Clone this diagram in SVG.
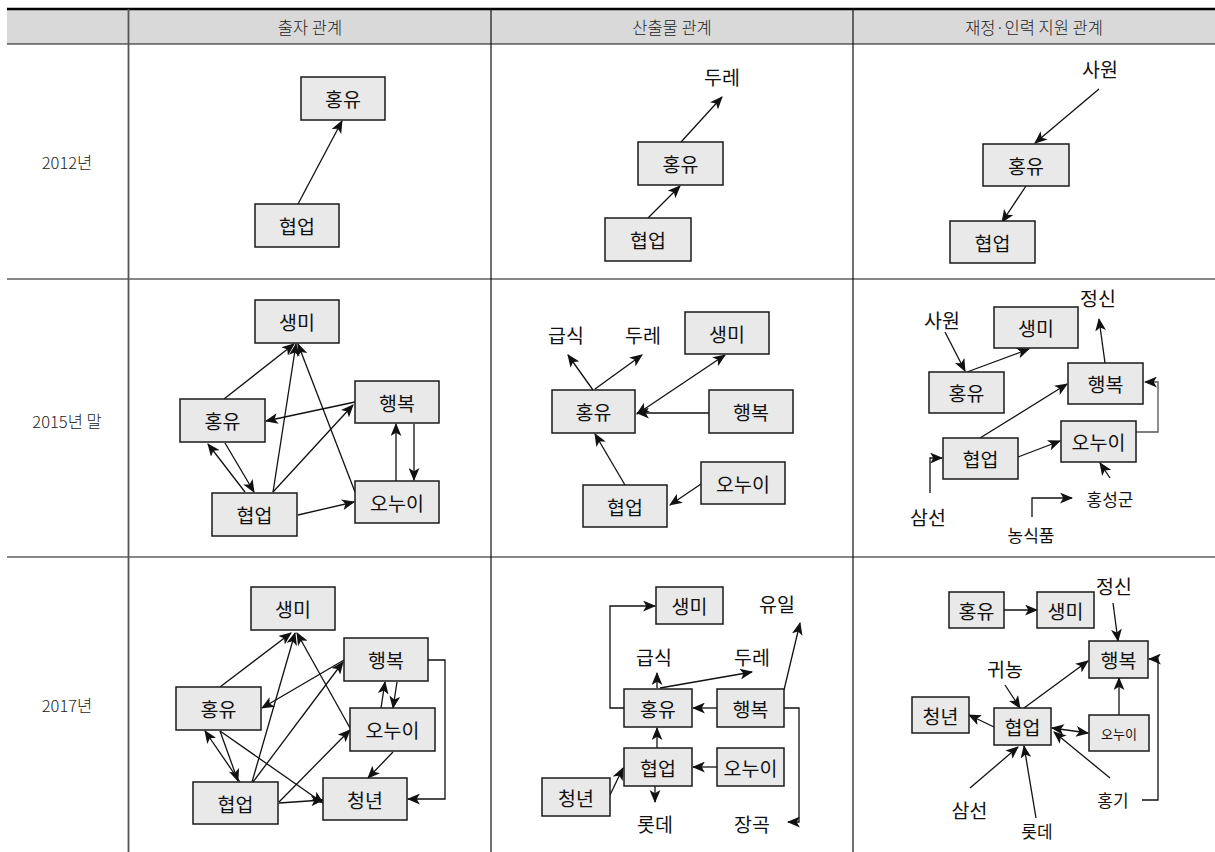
<svg xmlns="http://www.w3.org/2000/svg" width="1215" height="852" viewBox="0 0 1215 852">
<style>
.box{fill:#e9e9e9;stroke:#1a1a1a;stroke-width:1.5}
.t{font-family:"Noto Sans CJK KR","Noto Sans",sans-serif;font-size:19.5px;fill:#111;text-anchor:middle;dominant-baseline:central}
.s{font-size:17px}
.xs{font-size:13px}
.h{font-family:"Noto Sans CJK KR","Noto Sans",sans-serif;font-size:16.5px;font-weight:300;fill:#222;text-anchor:middle;dominant-baseline:central}
.c{fill:none;stroke:#111;stroke-width:1.3;marker-end:url(#ah)}
.d{marker-start:url(#ah)}
.g{stroke:#555}
.grid{stroke:#111;stroke-width:1.2;fill:none}
</style>
<defs>
<marker id="ah" viewBox="0 0 12 10" refX="11" refY="5" markerWidth="13" markerHeight="11" markerUnits="userSpaceOnUse" orient="auto-start-reverse"><path d="M0,0 L12,5 L0,10 L3,5 Z" fill="#111"/></marker>
</defs>
<rect width="1215" height="852" fill="#fff"/>
<g id="table">
<rect x="7" y="9" width="1208" height="35" fill="#d9d9d9"/>
<line x1="7" y1="9" x2="1215" y2="9" stroke="#000" stroke-width="2.5"/>
<line class="grid" x1="7" y1="44" x2="1215" y2="44"/>
<line class="grid" x1="7" y1="279" x2="1215" y2="279"/>
<line class="grid" x1="7" y1="557" x2="1215" y2="557"/>
<line x1="128.5" y1="9" x2="128.5" y2="852" stroke="#555" stroke-width="1.8"/>
<line class="grid" x1="491" y1="9" x2="491" y2="852"/>
<line class="grid" x1="853" y1="9" x2="853" y2="852"/>
<text class="h" x="310" y="27">출자 관계</text>
<text class="h" x="672" y="27">산출물 관계</text>
<text class="h" x="1034" y="27">재정·인력 지원 관계</text>
<text class="h" x="67" y="162">2012년</text>
<text class="h" x="67" y="421">2015년 말</text>
<text class="h" x="67" y="705">2017년</text>
</g>

<g id="connectors">
<!-- 2012 출자 -->
<line class="c" x1="298" y1="204" x2="342" y2="121"/>
<!-- 2012 산출물 -->
<line class="c" x1="681" y1="142" x2="722" y2="97"/>
<line class="c" x1="648" y1="218" x2="680" y2="186"/>
<!-- 2012 재정 -->
<line class="c" x1="1099" y1="89" x2="1035" y2="143"/>
<line class="c" x1="1026" y1="186" x2="1002" y2="222"/>
<!-- 2015 출자 -->
<line class="c" x1="224" y1="399" x2="294" y2="344"/>
<line class="c" x1="273" y1="492" x2="296" y2="344"/>
<line class="c" x1="355" y1="492" x2="298" y2="344"/>
<line class="c" x1="355" y1="402" x2="266" y2="421"/>
<line class="c" x1="273" y1="492" x2="353" y2="405"/>
<line class="c" x1="225" y1="443" x2="254" y2="492"/>
<line class="c" x1="245" y1="492" x2="208" y2="444"/>
<line class="c" x1="298" y1="515" x2="354" y2="502"/>
<line class="c" x1="396" y1="481" x2="396" y2="424"/>
<line class="c" x1="414" y1="424" x2="414" y2="480"/>
<!-- 2015 산출물 -->
<line class="c" x1="593" y1="390" x2="568" y2="355"/>
<line class="c" x1="595" y1="389" x2="642" y2="355"/>
<line class="c d" x1="637" y1="414" x2="725" y2="355"/>
<line class="c" x1="709" y1="413" x2="637" y2="413"/>
<line class="c" x1="625" y1="485" x2="595" y2="434"/>
<line class="c" x1="701" y1="484" x2="670" y2="505"/>
<!-- 2015 재정 -->
<line class="c" x1="945" y1="332" x2="965" y2="371"/>
<line class="c" x1="967" y1="372" x2="1029" y2="349"/>
<line class="c" x1="1105" y1="363" x2="1099" y2="319"/>
<line class="c" x1="980" y1="438" x2="1067" y2="384"/>
<line class="c" x1="1018" y1="457" x2="1060" y2="441"/>
<path class="c g" d="M1136,432 H1158 V382 H1145"/>
<line class="c" x1="1110" y1="478" x2="1100" y2="463"/>
<path class="c" d="M930,493 V458 H942"/>
<path class="c" d="M1032,517 V498 H1072"/>
<!-- 2017 출자 -->
<line class="c" x1="220" y1="687" x2="291" y2="633"/>
<line class="c" x1="252" y1="782" x2="295" y2="633"/>
<line class="c" x1="350" y1="728" x2="297" y2="633"/>
<line class="c" x1="344" y1="660" x2="262" y2="708"/>
<line class="c" x1="253" y1="782" x2="343" y2="662"/>
<line class="c" x1="220" y1="731" x2="238" y2="781"/>
<line class="c" x1="240" y1="782" x2="205" y2="731"/>
<line class="c" x1="220" y1="731" x2="323" y2="803"/>
<line class="c" x1="279" y1="803" x2="323" y2="800"/>
<line class="c" x1="279" y1="802" x2="350" y2="730"/>
<line class="c" x1="381" y1="708" x2="385" y2="682"/>
<line class="c" x1="397" y1="682" x2="393" y2="708"/>
<line class="c" x1="393" y1="752" x2="368" y2="778"/>
<path class="c" d="M428,660 H445 V799 H408"/>
<!-- 2017 산출물 -->
<path class="c" d="M624,708 H610 V606 H655"/>
<line class="c" x1="657" y1="688" x2="657" y2="673"/>
<line class="c" x1="660" y1="688" x2="752" y2="672"/>
<line class="c" x1="717" y1="708" x2="693" y2="708"/>
<line class="c" x1="784" y1="690" x2="800" y2="623"/>
<path class="c" d="M784,708 H799 V822 H788"/>
<line class="c" x1="657" y1="748" x2="657" y2="728"/>
<line class="c" x1="717" y1="767" x2="693" y2="767"/>
<line class="c" x1="610" y1="795" x2="623" y2="768"/>
<line class="c" x1="655" y1="786" x2="655" y2="802"/>
<!-- 2017 재정 -->
<line class="c" x1="1004" y1="610" x2="1037" y2="610"/>
<line class="c" x1="1113" y1="603" x2="1118" y2="641"/>
<line class="c" x1="1005" y1="685" x2="1020" y2="708"/>
<line class="c" x1="1024" y1="708" x2="1088" y2="661"/>
<line class="c" x1="994" y1="727" x2="969" y2="715"/>
<line class="c d" x1="1052" y1="728" x2="1088" y2="733"/>
<line class="c" x1="1119" y1="715" x2="1119" y2="678"/>
<line class="c" x1="970" y1="788" x2="1018" y2="747"/>
<line class="c" x1="1036" y1="818" x2="1024" y2="746"/>
<line class="c" x1="1110" y1="778" x2="1054" y2="732"/>
<path class="c" d="M1142,800 H1158 V659 H1149"/>
</g>

<!-- 2012 출자 -->
<g id="n2012a_hongyu"><rect class="box" x="301" y="77" width="84" height="43"/><text class="t" x="343" y="98.5">홍유</text></g>
<g id="n2012a_hyeop"><rect class="box" x="255" y="204" width="84" height="43"/><text class="t" x="297" y="225.5">협업</text></g>
<!-- 2012 산출물 -->
<g id="n2012b_dure"><text class="t" x="722" y="76">두레</text></g>
<g id="n2012b_hongyu"><rect class="box" x="638" y="142" width="85" height="43"/><text class="t" x="680.5" y="163.5">홍유</text></g>
<g id="n2012b_hyeop"><rect class="box" x="605" y="218" width="86" height="43"/><text class="t" x="648" y="239.5">협업</text></g>
<!-- 2012 재정 -->
<g id="n2012c_sawon"><text class="t" x="1100" y="68">사원</text></g>
<g id="n2012c_hongyu"><rect class="box" x="983" y="144" width="86" height="42"/><text class="t" x="1026" y="165">홍유</text></g>
<g id="n2012c_hyeop"><rect class="box" x="950" y="221" width="85" height="42"/><text class="t" x="992.5" y="242">협업</text></g>

<!-- 2015 출자 -->
<g id="n2015a_saengmi"><rect class="box" x="255" y="300" width="84" height="43"/><text class="t" x="297" y="321.5">생미</text></g>
<g id="n2015a_hongyu"><rect class="box" x="180" y="399" width="85" height="43"/><text class="t" x="222.5" y="420.5">홍유</text></g>
<g id="n2015a_haengbok"><rect class="box" x="355" y="381" width="84" height="42"/><text class="t" x="397" y="402">행복</text></g>
<g id="n2015a_hyeop"><rect class="box" x="212" y="493" width="85" height="43"/><text class="t" x="254.5" y="514.5">협업</text></g>
<g id="n2015a_onui"><rect class="box" x="355" y="481" width="84" height="42"/><text class="t" x="397" y="502">오누이</text></g>
<!-- 2015 산출물 -->
<g id="n2015b_geupsik"><text class="t" x="566" y="334">급식</text></g>
<g id="n2015b_dure"><text class="t" x="643" y="334">두레</text></g>
<g id="n2015b_saengmi"><rect class="box" x="685" y="312" width="84" height="42"/><text class="t" x="727" y="333">생미</text></g>
<g id="n2015b_hongyu"><rect class="box" x="552" y="390" width="83" height="43"/><text class="t" x="593.5" y="411.5">홍유</text></g>
<g id="n2015b_haengbok"><rect class="box" x="709" y="390" width="84" height="43"/><text class="t" x="751" y="411.5">행복</text></g>
<g id="n2015b_onui"><rect class="box" x="701" y="462" width="84" height="42"/><text class="t" x="743" y="483">오누이</text></g>
<g id="n2015b_hyeop"><rect class="box" x="583" y="485" width="84" height="42"/><text class="t" x="625" y="506">협업</text></g>
<!-- 2015 재정 -->
<g id="n2015c_jeongsin"><text class="t" x="1098" y="297">정신</text></g>
<g id="n2015c_sawon"><text class="t" x="942" y="319">사원</text></g>
<g id="n2015c_saengmi"><rect class="box" x="994" y="307" width="84" height="41"/><text class="t" x="1036" y="327.5">생미</text></g>
<g id="n2015c_hongyu"><rect class="box" x="929" y="372" width="75" height="41"/><text class="t" x="966.5" y="392.5">홍유</text></g>
<g id="n2015c_haengbok"><rect class="box" x="1068" y="363" width="75" height="41"/><text class="t" x="1105.5" y="383.5">행복</text></g>
<g id="n2015c_onui"><rect class="box" x="1061" y="421" width="75" height="41"/><text class="t" x="1098.5" y="441.5">오누이</text></g>
<g id="n2015c_hyeop"><rect class="box" x="943" y="438" width="75" height="41"/><text class="t" x="980.5" y="458.5">협업</text></g>
<g id="n2015c_samseon"><text class="t" x="928" y="516">삼선</text></g>
<g id="n2015c_hongseong"><text class="t s" x="1110" y="498">홍성군</text></g>
<g id="n2015c_nongsik"><text class="t s" x="1031" y="534">농식품</text></g>

<!-- 2017 출자 -->
<g id="n2017a_saengmi"><rect class="box" x="251" y="587" width="84" height="43"/><text class="t" x="293" y="608.5">생미</text></g>
<g id="n2017a_haengbok"><rect class="box" x="344" y="638" width="84" height="43"/><text class="t" x="386" y="659.5">행복</text></g>
<g id="n2017a_hongyu"><rect class="box" x="176" y="687" width="85" height="43"/><text class="t" x="218.5" y="708.5">홍유</text></g>
<g id="n2017a_onui"><rect class="box" x="350" y="708" width="85" height="43"/><text class="t" x="392.5" y="729.5">오누이</text></g>
<g id="n2017a_hyeop"><rect class="box" x="193" y="782" width="85" height="42"/><text class="t" x="235.5" y="803">협업</text></g>
<g id="n2017a_cheongnyeon"><rect class="box" x="323" y="778" width="84" height="42"/><text class="t" x="365" y="799">청년</text></g>
<!-- 2017 산출물 -->
<g id="n2017b_saengmi"><rect class="box" x="656" y="587" width="67" height="37"/><text class="t" x="689.5" y="605.5">생미</text></g>
<g id="n2017b_yuil"><text class="t" x="777" y="603">유일</text></g>
<g id="n2017b_geupsik"><text class="t" x="654" y="656">급식</text></g>
<g id="n2017b_dure"><text class="t" x="752" y="656">두레</text></g>
<g id="n2017b_hongyu"><rect class="box" x="624" y="689" width="68" height="38"/><text class="t" x="658" y="708">홍유</text></g>
<g id="n2017b_haengbok"><rect class="box" x="717" y="689" width="67" height="38"/><text class="t" x="750.5" y="708">행복</text></g>
<g id="n2017b_hyeop"><rect class="box" x="624" y="748" width="68" height="38"/><text class="t" x="658" y="767">협업</text></g>
<g id="n2017b_onui"><rect class="box" x="717" y="748" width="67" height="38"/><text class="t" x="750.5" y="767">오누이</text></g>
<g id="n2017b_cheongnyeon"><rect class="box" x="542" y="778" width="68" height="38"/><text class="t" x="576" y="797">청년</text></g>
<g id="n2017b_lotte"><text class="t" x="655" y="823">롯데</text></g>
<g id="n2017b_janggok"><text class="t" x="752" y="823">장곡</text></g>
<!-- 2017 재정 -->
<g id="n2017c_jeongsin"><text class="t" x="1114" y="585">정신</text></g>
<g id="n2017c_hongyu"><rect class="box" x="949" y="592" width="55" height="36"/><text class="t" x="976.5" y="610">홍유</text></g>
<g id="n2017c_saengmi"><rect class="box" x="1037" y="592" width="57" height="36"/><text class="t" x="1065.5" y="610">생미</text></g>
<g id="n2017c_haengbok"><rect class="box" x="1089" y="641" width="59" height="37"/><text class="t" x="1118.5" y="659.5">행복</text></g>
<g id="n2017c_gwinong"><text class="t" x="1005" y="668">귀농</text></g>
<g id="n2017c_cheongnyeon"><rect class="box" x="912" y="697" width="57" height="36"/><text class="t" x="940.5" y="715">청년</text></g>
<g id="n2017c_hyeop"><rect class="box" x="994" y="708" width="57" height="37"/><text class="t" x="1022.5" y="726.5">협업</text></g>
<g id="n2017c_onui"><rect class="box" x="1089" y="715" width="60" height="36"/><text class="t xs" x="1119" y="733">오누이</text></g>
<g id="n2017c_samseon"><text class="t" x="969.5" y="809">삼선</text></g>
<g id="n2017c_lotte"><text class="t s" x="1037" y="830">롯데</text></g>
<g id="n2017c_honggi"><text class="t s" x="1113" y="799">홍기</text></g>
</svg>
